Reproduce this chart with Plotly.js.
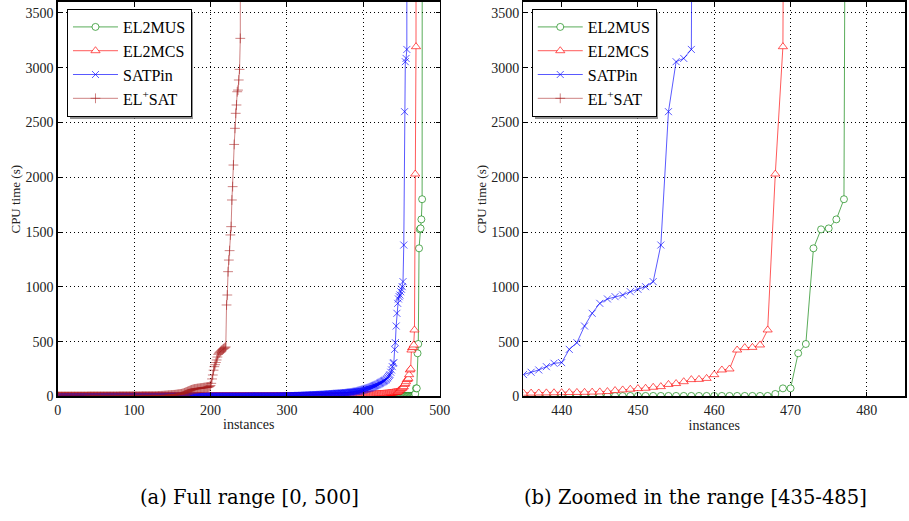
<!DOCTYPE html>
<html><head><meta charset="utf-8">
<script src="https://cdn.plot.ly/plotly-3.0.1.min.js"></script>
<style>html,body{margin:0;padding:0;background:#fff}#chart{width:909px;height:521px}</style>
</head><body><div id="chart"></div>
<script>
// Series names (legend order)
const seriesNames = ['EL2MUS', 'EL2MCS', 'SATPin', 'EL<sup>+</sup>SAT'];
const captions = ['(a) Full range [0, 500]', '(b) Zoomed in the range [435-485]'];
const yTitle = 'CPU time (s)';
const xTitle = 'instances';

// CPU time (s) per instance, sorted; array index = instance number
const elmus = [
  0,0,0,0,0,0,0,0,0,0, 0,0,0,0,0,0,0,0,0,0, 0,0,0,0,0,0,0,0,0,0,
  0,0,0,0,0,0,0,0,0,0, 0,0,0,0,0,0,0,0,0,0, 0,0,0,0,0,0,0,0,0,0,
  0,0,0,0,0,0,0,0,0,0, 0,0,0,0,0,0,0,0,0,0, 0,0,0,0,0,0,0,0,0,0,
  0,0,0,0,0,0,0,0,0,0, 0,0,0,0,0,0,0,0,0,0, 0,0,0,0,0,0,0,0,0,0,
  0,0,0,0,0,0,0,0,0,0, 0,0,0,0,0,0,0,0,0,0, 0,0,0,0,0,0,0,0,0,0,
  1,1,1,1,1,1,1,1,1,1, 1,1,1,1,1,1,1,1,1,1, 1,1,1,1,1,1,1,1,1,1,
  1,1,1,1,1,1,1,1,1,1, 1,1,1,1,1,1,1,1,1,1, 1,1,1,1,1,1,1,1,1,1,
  1,1,1,1,1,1,1,1,1,1, 1,1,1,1,1,1,1,1,1,1, 1,1,1,1,1,1,1,1,1,1,
  1,1,1,1,1,1,1,1,1,1, 1,1,1,1,1,1,1,1,1,1, 1,1,1,1,1,1,1,1,1,1,
  1,1,1,1,1,1,1,1,1,1, 1,1,1,1,1,1,1,1,1,1, 1,1,1,1,1,1,1,1,1,1,
  2,2,2,2,2,2,2,2,2,2, 2,2,2,2,2,2,2,2,2,2, 2,2,2,2,2,2,2,2,2,2,
  2,2,2,2,2,2,2,2,2,2, 2,2,2,2,2,2,2,2,2,2, 2,2,2,2,2,2,2,2,2,2,
  2,2,2,2,2,2,2,2,2,2, 2,2,2,2,2,2,2,2,2,2, 2,2,2,2,2,2,2,2,2,2,
  2,2,2,2,2,2,2,2,2,2,
  3,3,3,3,3,3,3,3,3,3, 3,3,3,3,3,3,3,3,3,3, 3,3,3,3,3,3,3,3,3,3,
  4,4,4,4,4,4,4,4,4,4,
  4,4,4,4,4,4,4,4,4,5,
  5,5,5,5,5,5,5,5,5,5,
  5,5,5,5,5,5,5,5,23,74,
  74,394,479,1352,1525,1534,1616,1800,20000
];

const elmcs = [
  0,0,0,0,0,0,0,0,0,0, 0,0,0,0,0,0,0,0,0,0, 0,0,0,0,0,0,0,0,0,0,
  0,0,0,0,0,0,0,0,0,0, 0,0,0,0,0,0,0,0,0,0, 0,0,0,0,0,0,0,0,0,0,
  0,0,0,0,0,0,0,0,0,0, 0,0,0,0,0,0,0,0,0,0, 0,0,0,0,0,0,0,0,0,0,
  0,0,0,0,0,0,0,0,0,0,
  1,1,1,1,1,1,1,1,1,1, 1,1,1,1,1,1,1,1,1,1, 1,1,1,1,1,1,1,1,1,1,
  1,1,1,1,1,1,1,1,1,1, 1,1,1,1,1,1,1,1,1,1, 1,1,1,1,1,1,1,1,1,1,
  1,1,1,1,1,1,1,1,1,1, 1,1,1,1,1,1,1,1,1,1, 1,1,1,1,1,1,1,1,1,1,
  1,1,1,1,1,1,1,1,1,1,
  2,2,2,2,2,2,2,2,2,2, 2,2,2,2,2,2,2,2,2,2, 2,2,2,2,2,2,2,2,2,2,
  2,2,2,2,2,2,2,2,2,2, 2,2,2,2,2,2,2,2,2,2, 2,2,2,2,2,2,2,2,2,2,
  2,2,2,2,2,2,2,2,2,2, 2,2,2,2,2,2,2,2,2,2,
  3,3,3,3,3,3,3,3,3,3, 3,3,3,3,3,3,3,3,3,3, 3,3,3,3,3,3,3,3,3,3,
  3,3,3,3,3,3,3,3,3,3, 3,3,3,3,3,3,3,3,3,3, 3,3,3,3,3,3,3,3,3,3,
  4,4,4,4,4,4,4,4,4,4, 4,4,4,4,4,4,4,4,4,4, 4,4,4,4,4,4,4,4,4,4,
  4,4,4,4,4,4,4,4,4,4,
  5,5,5,5,6,6,6,6,7,7,
  7,7,8,8,8,8,9,9,9,10,
  10,11,11,12,12,13,13,14,14,15,
  15,16,16,17,17,18,18,19,19,20,
  20,21,21,22,22,23,23,24,24,25,
  25,26,27,28,29,30,31,32,33,34,
  35,36,37,38,40,42,45,54,60,66,
  72,75,84,90,110,118,135,154,156,165,
  199,242,251,424,446,448,470,607,2030,3192,
  20000
];

const satpin = [
  0,0,0,0,0,0,0,0,0,0, 0,0,0,0,0,0,0,0,0,0, 0,0,0,0,0,0,0,0,0,0,
  0,0,0,0,0,0,0,0,0,0, 0,0,0,0,0,0,0,0,0,0, 0,0,0,0,0,0,0,0,0,0,
  1,1,1,1,1,1,1,1,1,1, 1,1,1,1,1,1,1,1,1,1, 1,1,1,1,1,1,1,1,1,1,
  1,1,1,1,1,1,1,1,1,1, 1,1,1,1,1,1,1,1,1,1, 1,1,1,1,1,1,1,1,1,1,
  1,1,1,1,1,1,1,1,1,1, 1,1,1,1,1,1,1,1,1,1,
  2,2,2,2,2,2,2,2,2,2, 2,2,2,2,2,2,2,2,2,2, 2,2,2,2,2,2,2,2,2,2,
  2,2,2,2,2,2,2,2,2,2, 2,2,2,2,2,2,2,2,2,2, 2,2,2,2,2,2,2,2,2,2,
  3,3,3,3,3,3,3,3,3,3, 3,3,3,3,3,3,3,3,3,3, 3,3,3,3,3,3,3,3,3,3,
  3,3,3,3,3,3,3,3,3,3, 3,3,3,3,3,3,3,3,3,3,
  4,4,4,4,4,4,4,4,4,4, 4,4,4,4,4,4,4,4,4,4, 4,4,4,4,4,4,4,4,4,4,
  4,4,4,4,4,4,4,4,4,4,
  5,5,5,5,5,6,6,6,6,6,
  7,7,7,7,7,8,8,8,8,8,
  9,9,9,9,9,10,10,10,10,10,
  11,11,11,12,12,12,13,13,13,14,
  14,14,15,15,15,16,16,16,17,17,
  17,18,18,18,19,19,19,20,20,20,
  21,21,22,22,23,23,24,24,25,25,
  26,26,27,27,28,28,29,29,30,30,
  31,31,32,32,33,33,34,34,35,35,
  36,37,38,39,40,41,42,43,44,45,
  46,47,48,49,50,52,54,56,58,60,
  62,64,66,68,70,72,74,76,78,80,
  83,86,89,92,95,98,101,104,107,110,
  114,118,122,126,130,134,138,142,146,150,
  156,164,172,182,192,200,221,242,272,303,
  309,430,491,643,759,850,890,911,926,956,
  978,1002,1048,1382,2599,3055,3085,3167,20000
];

const elsat = [
  0,0,0,0,0,0,0,0,0,0, 0,0,0,0,0,0,0,0,0,0, 0,0,0,0,0,0,0,0,0,0,
  0,0,0,0,0,0,0,0,0,0,
  1,1,1,1,1,1,1,1,1,1, 1,1,1,1,1,1,1,1,1,1, 1,1,1,1,1,1,1,1,1,1,
  1,1,1,1,1,1,1,1,1,1,
  2,2,2,2,2,2,2,2,2,2, 2,2,2,2,2,2,2,2,2,2, 2,2,2,2,2,2,2,2,2,2,
  3,3,3,3,3,3,3,3,3,3, 3,3,3,3,3,3,3,3,3,3,
  4,4,5,5,5,6,6,6,7,7,
  8,8,9,9,10,11,11,12,12,13,
  13,14,15,15,16,17,18,19,20,21,
  22,23,24,26,28,30,33,36,39,42,
  45,48,51,54,57,60,62,64,66,68,
  69,70,71,72,73,74,75,76,77,78,
  79,80,81,82,83,84,85,86,88,92,
  100,120,160,196,240,272,290,310,333,360,
  385,395,403,410,418,424,430,435,440,445,
  452,835,926,1139,1245,1331,1474,1550,1793,1915,
  2112,2300,2447,2584,2660,2781,2796,2888,2985,3268,
  20000
];

const seriesValues = [elmus, elmcs, satpin, elsat];
const seriesColors = ['rgba(0,128,0,0.65)', 'rgba(255,0,0,0.65)', 'rgba(0,0,255,0.65)', 'rgba(165,30,30,0.55)'];
const seriesSymbols = ['circle', 'triangle-up', 'x-thin', 'cross-thin'];
const seriesSizes = [7, 8, 7, 7];

const traces = [];
[['x', 'y', 'legend'], ['x2', 'y2', 'legend2']].forEach(([xa, ya, lg]) => {
  seriesValues.forEach((vals, k) => {
    const thin = seriesSymbols[k].endsWith('thin');
    traces.push({
      type: 'scatter', mode: 'lines+markers', name: seriesNames[k],
      x: vals.map((_, i) => i), y: vals,
      xaxis: xa, yaxis: ya, legend: lg,
      line: {color: seriesColors[k], width: 1},
      marker: {
        symbol: seriesSymbols[k], size: seriesSizes[k],
        color: thin ? seriesColors[k] : 'white',
        line: {color: seriesColors[k], width: 1}
      },
      cliponaxis: true, hoverinfo: 'skip'
    });
  });
});

const serif = 'Liberation Serif';
const captionFont = 'DejaVu Serif';
const W = 909, H = 521;
const axisCommon = {
  showline: true, linecolor: 'black', linewidth: 1.5, mirror: 'ticks',
  ticks: 'inside', ticklen: 4, tickcolor: 'black', tickwidth: 1,
  showgrid: true, gridcolor: 'black', gridwidth: 1, griddash: '1px,3px',
  zeroline: false, tickfont: {family: serif, size: 14, color: '#222'}
};
const yDomain = [0.2390, 0.9962];
const legendCommon = {
  bgcolor: 'white', bordercolor: 'black', borderwidth: 1,
  font: {family: serif, size: 16, color: 'black'},
  xanchor: 'left', yanchor: 'top', itemwidth: 45, tracegroupgap: 0
};
// legend drop shadows (pixel boxes offset behind each legend)
const shadowBox = (x0, y0, x1, y1) => ({
  type: 'rect', xref: 'paper', yref: 'paper', layer: 'above',
  x0: x0 / W, x1: x1 / W, y0: 1 - y1 / H, y1: 1 - y0 / H,
  fillcolor: 'rgba(110,110,110,0.75)', line: {width: 0}
});

const layout = {
  width: W, height: H, margin: {l: 0, r: 0, t: 0, b: 0},
  paper_bgcolor: 'white', plot_bgcolor: 'white',
  font: {family: serif, size: 14, color: 'black'},
  showlegend: true,
  xaxis: Object.assign({}, axisCommon, {domain: [0.0635, 0.4837], range: [0, 500], tick0: 0, dtick: 100, anchor: 'y',
    title: {text: xTitle, standoff: 2, font: {family: serif, size: 14, color: '#222'}}}),
  yaxis: Object.assign({}, axisCommon, {domain: yDomain, range: [0, 3600], tick0: 0, dtick: 500, anchor: 'x',
    title: {text: yTitle, font: {family: serif, size: 13, color: '#222'}}}),
  xaxis2: Object.assign({}, axisCommon, {domain: [0.5759, 0.9956], range: [435, 485], tick0: 0, dtick: 10, anchor: 'y2',
    title: {text: xTitle, standoff: 2, font: {family: serif, size: 14, color: '#222'}}}),
  yaxis2: Object.assign({}, axisCommon, {domain: yDomain, range: [0, 3600], tick0: 0, dtick: 500, anchor: 'x2',
    title: {text: yTitle, font: {family: serif, size: 13, color: '#222'}}}),
  legend: Object.assign({}, legendCommon, {x: 0.0737, y: 0.9827}),
  legend2: Object.assign({}, legendCommon, {x: 0.585, y: 0.9827}),
  shapes: [shadowBox(70, 12, 193, 119), shadowBox(535, 12, 658, 119)],
  annotations: [
    {text: captions[0], xref: 'paper', yref: 'paper', x: 0.275, y: 0.046, showarrow: false,
     xanchor: 'center', yanchor: 'middle', font: {family: captionFont, size: 19.5, color: 'black'}},
    {text: captions[1], xref: 'paper', yref: 'paper', x: 0.765, y: 0.046, showarrow: false,
     xanchor: 'center', yanchor: 'middle', font: {family: captionFont, size: 19.5, color: 'black'}}
  ]
};

Plotly.newPlot('chart', traces, layout, {displayModeBar: false, staticPlot: true});
</script>
</body></html>
